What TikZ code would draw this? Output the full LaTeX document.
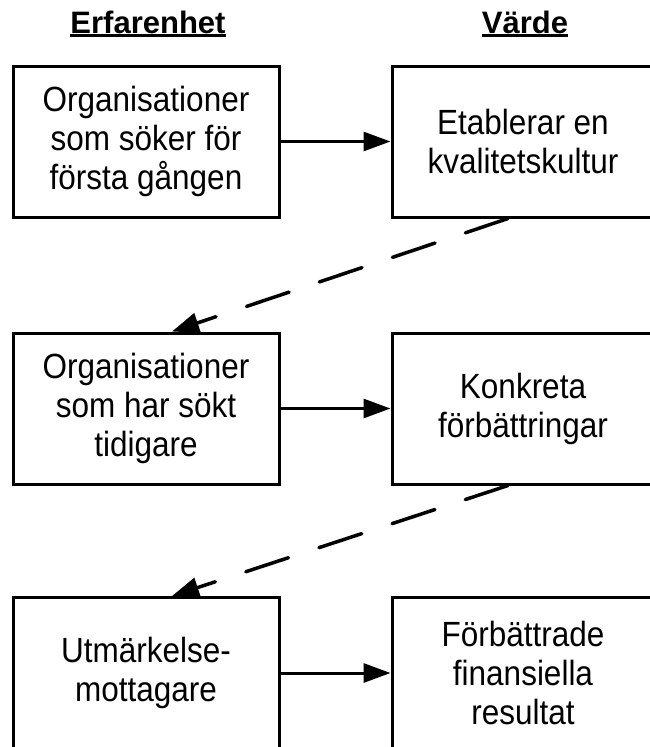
\documentclass[tikz,border=0pt]{standalone}
\usepackage{fontspec}
\setmainfont{Liberation Sans}
\newfontfamily\boxfont[FakeStretch=0.9]{Liberation Sans}
\usetikzlibrary{arrows.meta}
\usetikzlibrary{positioning}

\tikzset{
  box/.style={draw, line width=3pt, minimum height=151pt, inner sep=0pt,
    align=center, font=\boxfont\fontsize{35}{39}\selectfont},
  arr/.style={line width=3pt, -{Triangle[length=27pt,width=19pt]}},
  darr/.style={line width=3.5pt, line cap=round, dash pattern=on 45pt off 32pt,
    -{Triangle[length=27pt,width=20pt]}},
  head/.style={inner sep=0pt, anchor=base, font=\bfseries\fontsize{31}{34}\selectfont},
  uline/.style={line width=3pt}
}

\begin{document}
\begin{tikzpicture}[x=1pt,y=-1pt]

  \useasboundingbox (0,0) rectangle (649,747);

	%columns
  \def\xl{146};
  \def\xr{523};

	%headers
  \node[head] (hexp) at (\xl+2,33) {Erfarenhet};
  \node[head] (hval) at (\xr+2,33) {Värde};
  \draw[uline] ([yshift=-2.5pt]hexp.base west) -- ([yshift=-2.5pt]hexp.base east);
  \draw[uline] ([yshift=-2.5pt]hval.base west) -- ([yshift=-2.5pt]hval.base east);

	%experience boxes
    \foreach \y/\name/\txt in {141.5/e1/{Organisationer\\som söker för\\första gången},
                               408.5/e2/{Organisationer\\som har sökt\\tidigare},
                               673/e3/{Utmärkelse-\\mottagare}}{
         \node[box, minimum width=266pt] (\name) at (\xl,\y) {\txt};
    }

	%value boxes
    \foreach \y/\name/\txt in {141.5/v1/{Etablerar en\\kvalitetskultur},
                               408.5/v2/{Konkreta\\förbättringar},
                               673/v3/{Förbättrade\\finansiella\\resultat}}{
         \node[box, minimum width=262pt] (\name) at (\xr,\y) {\txt};
    }

	%arrows
    \foreach \i in {1,2,3}{
         \draw[arr] (e\i) -- (v\i);
    }
    \draw[darr] ([xshift=-15pt]v1.south) -- ([xshift=26pt]e2.north);
    \draw[darr] ([xshift=-15pt]v2.south) -- ([xshift=26pt]e3.north);

\end{tikzpicture}
\end{document}
